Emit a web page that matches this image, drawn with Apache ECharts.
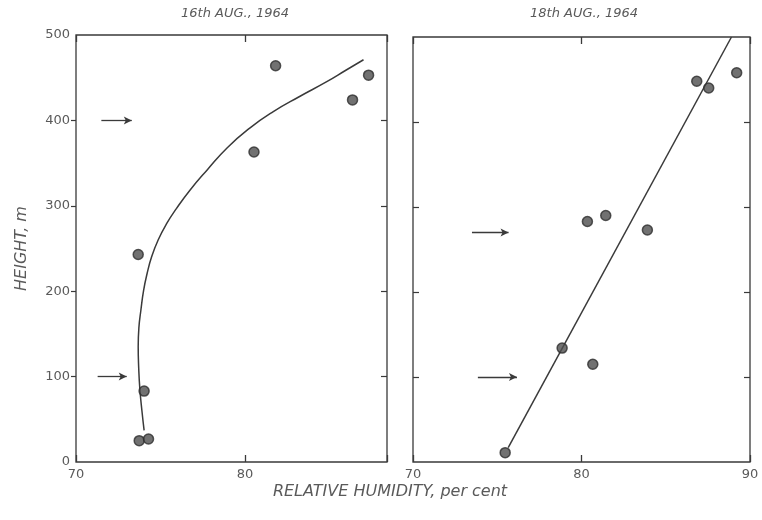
<!DOCTYPE html>
<html>
<head>
<meta charset="utf-8">
<script src="https://cdn.jsdelivr.net/npm/echarts@6/dist/echarts.min.js"></script>
<style>
html,body{margin:0;padding:0;background:#fff;}
#chart{width:762px;height:520px;}
</style>
</head>
<body>
<div id="chart"></div>
<script>
// ---- data ----
var panelTitles = ['16th AUG., 1964', '18th AUG., 1964'];
var xAxisName = 'RELATIVE HUMIDITY, per cent';
var yAxisName = 'HEIGHT, m';
var yTickLabels = [0, 100, 200, 300, 400, 500];
var yTickMarks = [100, 200, 300, 400];
var xTickLabelsLeft = [70, 80];
var xTickLabelsRight = [70, 80, 90];

// 16th Aug 1964 observations [humidity %, height m]
var pointsAug16 = [[73.68,243],[81.81,464],[87.31,453],[86.36,424],[80.53,363],[74.03,83],[73.74,25],[74.29,27]];
// fitted curve 16th Aug
var curveAug16 = [[74.03,37],[73.90,60],[73.78,85],[73.71,110],[73.68,135],[73.72,157],[73.84,178],[74.00,201],[74.21,221],[74.47,240],[74.86,260],[75.36,279],[75.95,297],[76.73,318],[77.76,342],[78.95,368],[80.28,391],[81.65,410],[83.23,428],[84.81,445],[85.99,459],[87.01,471]];
// 18th Aug 1964 observations
var pointsAug18 = [[75.47,11],[78.85,134],[80.67,115],[80.35,283],[81.44,290],[83.91,273],[86.84,448],[87.55,440],[89.21,458]];
// fitted straight line 18th Aug
var lineAug18 = [[75.65,17],[88.9,500]];
// arrows: [height, xStart, xEnd]
var arrowsAug16 = [[400,71.5,73.3],[100,71.28,73.0]];
var arrowsAug18 = [[270,73.5,75.67],[100,73.85,76.17]];

// ---- chart ----
var TXT = '#5a5a5a', LN = '#3a3a3a';
var FONT = 'DejaVu Sans';
var chart = echarts.init(document.getElementById('chart'), null, {renderer:'canvas'});

function xAx(grid, min, max, pos, labels) {
  return {
    type:'value', gridIndex:grid, min:min, max:max, interval:10, position:pos,
    axisLine:{show:false, onZero:false},
    axisTick:{show:true, inside:true, length:7, lineStyle:{color:LN, width:1.3}},
    axisLabel:{show:!!labels, customValues:labels || [], color:TXT, fontFamily:FONT, fontSize:13, margin:6},
    splitLine:{show:false}
  };
}
function yAx(grid, pos, labels, inside, extra) {
  var a = {
    type:'value', gridIndex:grid, min:0, max:500, interval:100, position:pos,
    axisLine:{show:false, onZero:false},
    axisTick:{show:true, inside:inside, length:inside?6:5, customValues:yTickMarks, lineStyle:{color:LN, width:1.2}},
    axisLabel:{show:!!labels, customValues:labels || [], color:TXT, fontFamily:FONT, fontSize:13, margin:6},
    splitLine:{show:false}
  };
  if (extra) for (var k in extra) a[k] = extra[k];
  return a;
}
function arrowMarks(arr) {
  return arr.map(function(a){ return [{coord:[a[1], a[0]]},{coord:[a[2], a[0]]}]; });
}
var markerStyle = {color:'#4e4e4e', borderColor:'#2e2e2e', borderWidth:1.5};

var option = {
  backgroundColor:'#fff',
  animation:false,
  grid:[
    {left:76, top:35, width:311, height:427, show:true, borderColor:LN, borderWidth:1.3, backgroundColor:'transparent'},
    {left:413, top:37, width:337, height:425, show:true, borderColor:LN, borderWidth:1.3, backgroundColor:'transparent'}
  ],
  xAxis:[
    xAx(0, 70, 88.4, 'bottom', xTickLabelsLeft),
    xAx(0, 70, 88.4, 'top', null),
    xAx(1, 70, 90, 'bottom', xTickLabelsRight),
    xAx(1, 70, 90, 'top', null)
  ],
  yAxis:[
    yAx(0, 'left', yTickLabels, false, {name:yAxisName, nameLocation:'middle', nameGap:46, nameRotate:90,
      nameTextStyle:{color:TXT, fontFamily:FONT, fontStyle:'italic', fontSize:16}}),
    yAx(0, 'right', null, true),
    yAx(1, 'left', null, true),
    yAx(1, 'right', null, true)
  ],
  graphic:[
    {type:'text', style:{text:panelTitles[0], x:235, y:14, textAlign:'center', textVerticalAlign:'middle', align:'center', verticalAlign:'middle', fill:TXT, font:'italic 13px "DejaVu Sans"'}},
    {type:'text', style:{text:panelTitles[1], x:584, y:14, textAlign:'center', textVerticalAlign:'middle', align:'center', verticalAlign:'middle', fill:TXT, font:'italic 13px "DejaVu Sans"'}},
    {type:'text', style:{text:xAxisName, x:390, y:492, textAlign:'center', textVerticalAlign:'middle', align:'center', verticalAlign:'middle', fill:TXT, font:'italic 16px "DejaVu Sans"'}}
  ],
  series:[
    {type:'line', xAxisIndex:0, yAxisIndex:0, data:curveAug16, smooth:0.5, showSymbol:false, symbol:'none',
      lineStyle:{color:LN, width:1.5}, z:2, silent:true},
    {type:'scatter', xAxisIndex:0, yAxisIndex:0, data:pointsAug16, symbol:'circle', symbolSize:10,
      itemStyle:markerStyle, z:5,
      markLine:{silent:true, symbol:['none','arrow'], symbolSize:[6,8], label:{show:false},
        lineStyle:{color:LN, width:1.3, type:'solid'}, data:arrowMarks(arrowsAug16)}},
    {type:'line', xAxisIndex:2, yAxisIndex:2, data:lineAug18, showSymbol:false, symbol:'none',
      lineStyle:{color:LN, width:1.5}, z:2, silent:true},
    {type:'scatter', xAxisIndex:2, yAxisIndex:2, data:pointsAug18, symbol:'circle', symbolSize:10,
      itemStyle:markerStyle, z:5,
      markLine:{silent:true, symbol:['none','arrow'], symbolSize:[6,8], label:{show:false},
        lineStyle:{color:LN, width:1.3, type:'solid'}, data:arrowMarks(arrowsAug18)}}
  ]
};
chart.setOption(option);
</script>
</body>
</html>
